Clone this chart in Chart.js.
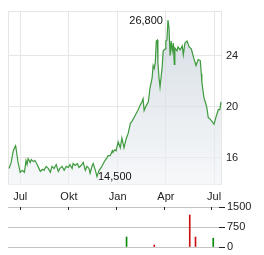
<!DOCTYPE html>
<html><head><meta charset="utf-8">
<script src="https://cdn.jsdelivr.net/npm/chart.js@4/dist/chart.umd.min.js"></script>
<style>
html,body{margin:0;padding:0;background:#fff;width:264px;height:255px;overflow:hidden}
.box{position:absolute;left:0;width:264px}
</style></head><body>
<div class="box" style="top:0;height:203px"><canvas id="c1" width="264" height="203"></canvas></div>
<div class="box" style="top:198px;height:57px"><canvas id="c2" width="264" height="57"></canvas></div>
<script>
const dates = ['2023-06-10','2023-06-14','2023-06-18','2023-06-22','2023-06-23','2023-06-27','2023-07-01','2023-07-05','2023-07-09','2023-07-12','2023-07-14','2023-07-16','2023-07-20','2023-07-22','2023-07-26','2023-07-29','2023-08-02','2023-08-08','2023-08-12','2023-08-15','2023-08-19','2023-08-23','2023-08-27','2023-08-30','2023-09-03','2023-09-07','2023-09-11','2023-09-14','2023-09-18','2023-09-22','2023-09-26','2023-09-30','2023-10-03','2023-10-07','2023-10-09','2023-10-13','2023-10-17','2023-10-20','2023-10-24','2023-10-28','2023-11-01','2023-11-04','2023-11-08','2023-11-10','2023-11-14','2023-11-16','2023-11-20','2023-11-23','2023-11-27','2023-12-01','2023-12-05','2023-12-08','2023-12-12','2023-12-14','2023-12-18','2023-12-22','2023-12-23','2023-12-27','2023-12-29','2024-01-02','2024-01-06','2024-01-09','2024-01-13','2024-01-17','2024-01-21','2024-01-25','2024-01-28','2024-02-01','2024-02-05','2024-02-09','2024-02-12','2024-02-16','2024-02-18','2024-02-20','2024-02-24','2024-02-28','2024-03-02','2024-03-06','2024-03-08','2024-03-10','2024-03-12','2024-03-14','2024-03-16','2024-03-17','2024-03-19','2024-03-21','2024-03-23','2024-03-25','2024-03-27','2024-03-31','2024-04-01','2024-04-03','2024-04-05','2024-04-07','2024-04-09','2024-04-11','2024-04-13','2024-04-15','2024-04-17','2024-04-18','2024-04-22','2024-04-24','2024-04-28','2024-05-02','2024-05-04','2024-05-07','2024-05-11','2024-05-15','2024-05-19','2024-05-21','2024-05-24','2024-05-28','2024-06-01','2024-06-05','2024-06-07','2024-06-08','2024-06-12','2024-06-16','2024-06-18','2024-06-20','2024-06-24','2024-06-27','2024-07-01','2024-07-05','2024-07-09','2024-07-12','2024-07-14'];
const prices = [15.15,15.62,16.54,16.92,16.77,15.62,14.85,15.00,14.85,15.77,15.46,15.92,15.62,15.85,15.69,15.77,15.46,14.92,15.08,15.00,15.31,15.15,14.85,15.31,15.15,15.46,14.92,15.15,15.31,15.00,15.31,15.23,15.46,15.15,15.54,15.38,15.54,15.23,15.38,15.62,15.00,15.31,15.15,14.77,15.38,15.54,15.00,14.50,15.00,15.23,15.54,15.77,16.00,16.15,16.15,16.54,16.46,16.62,16.54,17.23,16.77,17.54,16.77,17.46,17.92,18.69,18.85,19.15,19.46,19.77,20.08,20.38,20.62,19.69,20.08,20.38,21.46,22.23,23.23,23.00,23.46,25.15,25.23,23.46,22.31,21.54,22.31,23.08,24.38,24.54,25.15,25.23,26.80,26.15,24.00,25.15,24.38,25.00,23.31,24.62,24.38,24.69,24.46,24.77,24.08,25.00,25.15,24.69,24.54,24.23,23.77,23.23,23.69,23.62,22.54,21.92,20.69,20.15,19.77,19.15,19.00,18.85,18.62,19.23,19.77,19.77,20.38];
const tickDates = ['2023-07-01','2023-10-01','2024-01-01','2024-04-01','2024-07-01'];
const tickLabels = ['Jul','Okt','Jan','Apr','Jul'];
const priceTicks = [16,20,24];
const volUpDates = ['2024-01-21','2024-07-05'];
const volUp = [375,330];
const volDownDates = ['2024-03-14','2024-05-21','2024-06-01'];
const volDown = [75,1200,375];
const volTicks = [0,750,1500];
const rangeStart = '2023-06-08', rangeEnd = '2024-07-16';

const dayOf = s => (Date.UTC(+s.slice(0,4), +s.slice(5,7)-1, +s.slice(8,10)) - Date.UTC(2023,6,1)) / 864e5;
const tickDays = tickDates.map(dayOf);
const xMin = dayOf(rangeStart), xMax = dayOf(rangeEnd);
const FONT = {family:'"Liberation Sans", Arial, sans-serif', size:11};
const GRID = '#e6e6e6';

const boxPlugin = {
  id:'box',
  beforeDatasetsDraw(c){
    const a=c.chartArea, ctx=c.ctx;
    ctx.save(); ctx.strokeStyle=GRID; ctx.lineWidth=1;
    ctx.strokeRect(Math.round(a.left)+0.5, Math.round(a.top)+0.5, Math.round(a.right-a.left)-1, Math.round(a.bottom-a.top)-1);
    ctx.restore();
  },
  afterDatasetsDraw(c){
    const ctx=c.ctx, xs=c.scales.x, ys=c.scales.y;
    let iMax=0,iMin=0;
    prices.forEach((v,i)=>{ if(v>prices[iMax]) iMax=i; if(v<prices[iMin]) iMin=i; });
    ctx.save(); ctx.fillStyle='#111'; ctx.font='11px "Liberation Sans", Arial, sans-serif'; ctx.textBaseline='middle';
    ctx.textAlign='right';
    ctx.fillText(prices[iMax].toFixed(3).replace('.',','), xs.getPixelForValue(dayOf(dates[iMax]))-5, ys.getPixelForValue(prices[iMax])+1);
    ctx.textAlign='left';
    ctx.fillText(prices[iMin].toFixed(3).replace('.',','), xs.getPixelForValue(dayOf(dates[iMin]))+1, ys.getPixelForValue(prices[iMin]));
    ctx.restore();
  }
};

new Chart(document.getElementById('c1'), {
  type:'line',
  data:{datasets:[{
    data: dates.map((d,i)=>({x:dayOf(d), y:prices[i]})),
    borderColor:'#3d9a3d', borderWidth:1.2, pointRadius:0, tension:0,
    fill:'start',
    backgroundColor(ctx){
      const a=ctx.chart.chartArea; if(!a) return 'rgba(210,218,226,0.7)';
      const g=ctx.chart.ctx.createLinearGradient(0,a.top,0,a.bottom);
      g.addColorStop(0,'rgba(196,206,216,0.75)'); g.addColorStop(1,'rgba(240,243,246,0.6)');
      return g;
    }
  }]},
  options:{
    responsive:false, animation:false, events:[],
    layout:{padding:{left:8,top:7,right:0,bottom:0}},
    plugins:{legend:{display:false}, tooltip:{enabled:false}},
    scales:{
      x:{type:'linear', min:xMin, max:xMax,
        afterBuildTicks(s){ s.ticks = tickDays.map(v=>({value:v})); },
        afterFit(s){ s.height = 18; },
        grid:{color:GRID, drawTicks:false}, border:{display:false},
        ticks:{autoSkip:false, maxRotation:0, padding:5, color:'#222', font:FONT,
          callback(v){ const i=tickDays.indexOf(v); return i>=0?tickLabels[i]:''; }}},
      y:{position:'right', min:13.85, max:27.54,
        afterBuildTicks(s){ s.ticks = priceTicks.map(v=>({value:v})); },
        afterFit(s){ s.width = 42; },
        grid:{color:GRID, drawTicks:false}, border:{display:false},
        ticks:{padding:4, color:'#222', font:FONT, callback:v=>String(v)}}
    }
  },
  plugins:[boxPlugin]
});

const topTicks = {
  id:'topTicks',
  afterDraw(c){
    const ctx=c.ctx, xs=c.scales.x, a=c.chartArea;
    ctx.save(); ctx.strokeStyle='#222'; ctx.lineWidth=1;
    tickDays.forEach(d=>{ const x=Math.round(xs.getPixelForValue(d))+0.5; ctx.beginPath(); ctx.moveTo(x,a.top); ctx.lineTo(x,a.top+3); ctx.stroke(); });
    ctx.restore();
  }
};

new Chart(document.getElementById('c2'), {
  type:'bar',
  data:{datasets:[
    {data: volUpDates.map((d,i)=>({x:dayOf(d), y:volUp[i]})), backgroundColor:'#0a8a0a', barThickness:1, grouped:false},
    {data: volDownDates.map((d,i)=>({x:dayOf(d), y:volDown[i]})), backgroundColor:'#cc1111', barThickness:1, grouped:false}
  ]},
  options:{
    responsive:false, animation:false, events:[],
    layout:{padding:{left:8,top:9,right:0,bottom:8}},
    plugins:{legend:{display:false}, tooltip:{enabled:false}},
    scales:{
      x:{type:'linear', min:xMin, max:xMax, display:false, offset:false},
      y:{position:'right', min:0, max:1500,
        afterBuildTicks(s){ s.ticks = volTicks.map(v=>({value:v})); },
        afterFit(s){ s.width = 45; s.paddingTop = 0; s.paddingBottom = 0; },
        grid:{color:'#c4c4c4', tickColor:'#222', tickLength:6}, border:{display:false},
        ticks:{padding:2, color:'#222', font:FONT, callback:v=>String(v)}}
    }
  },
  plugins:[topTicks]
});
</script>
</body></html>
